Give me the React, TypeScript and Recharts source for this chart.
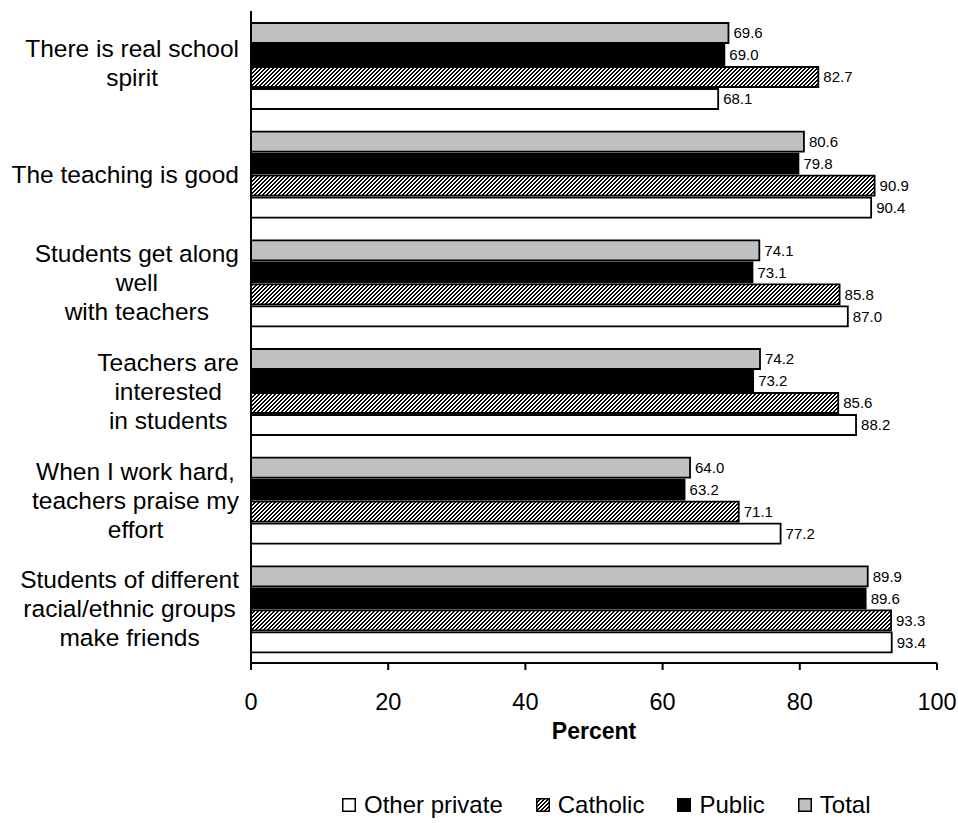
import React from "react";
import { BarChart, Bar, XAxis, YAxis, LabelList } from "recharts";

const categories = [
  "There is real school\nspirit",
  "The teaching is good",
  "Students get along\nwell\nwith teachers",
  "Teachers are\ninterested\nin students",
  "When I work hard,\nteachers praise my\neffort",
  "Students of different\nracial/ethnic groups\nmake friends",
];

const total = [69.6, 80.6, 74.1, 74.2, 64.0, 89.9];
const publicSchools = [69.0, 79.8, 73.1, 73.2, 63.2, 89.6];
const catholic = [82.7, 90.9, 85.8, 85.6, 71.1, 93.3];
const otherPrivate = [68.1, 90.4, 87.0, 88.2, 77.2, 93.4];

const xTicks = [0, 20, 40, 60, 80, 100];

const data = categories.map((category, i) => ({
  category,
  total: total[i],
  public: publicSchools[i],
  catholic: catholic[i],
  other: otherPrivate[i],
}));

const FONT = "'Liberation Sans', Arial, sans-serif";

let measureCtx: CanvasRenderingContext2D | null = null;
const textWidth = (text: string, size: number) => {
  if (!measureCtx) {
    measureCtx = document.createElement("canvas").getContext("2d");
  }
  if (!measureCtx) return text.length * size * 0.5;
  measureCtx.font = `${size}px ${FONT}`;
  return measureCtx.measureText(text).width;
};

const CategoryTick = (props: any) => {
  const { x, y, payload } = props;
  const lines: string[] = String(payload.value).split("\n");
  const size = 24.5;
  const lineHeight = 29;
  const w = Math.max(...lines.map((l) => textWidth(l, size)));
  const cx = x - w / 2;
  const startY = y - ((lines.length - 1) * lineHeight) / 2 - (lines.length === 2 ? 3 : 0);
  return (
    <text x={cx} y={startY} textAnchor="middle" fontSize={size} fill="#000" fontFamily={FONT}>
      {lines.map((line, i) => (
        <tspan key={i} x={cx} y={startY + i * lineHeight} dy="0.36em">
          {line}
        </tspan>
      ))}
    </text>
  );
};

const PercentLabel = (props: any) => {
  const vb = props.viewBox || {};
  return (
    <text
      x={vb.x + vb.width / 2}
      y={vb.y + 76}
      textAnchor="middle"
      fontSize={23}
      fontWeight="bold"
      fill="#000"
      fontFamily={FONT}
    >
      Percent
    </text>
  );
};

// pixel hatch, rising diagonal
const hatchCells: [number, number][] = [];
for (let px = 0; px < 4; px++) {
  for (let py = 0; py < 4; py++) {
    if ((px + py) % 4 < 2) hatchCells.push([px, py]);
  }
}

const HatchDefs = ({ id }: { id: string }) => (
  <defs>
    <pattern id={id} width="4" height="4" patternUnits="userSpaceOnUse">
      <rect width="4" height="4" fill="#fff" />
      {hatchCells.map(([cx, cy]) => (
        <rect key={`${cx}-${cy}`} x={cx} y={cy} width={1} height={1} fill="#000" shapeRendering="crispEdges" />
      ))}
    </pattern>
  </defs>
);

const legendItems = [
  { name: "Other private", fill: "#fff" },
  { name: "Catholic", fill: "url(#hatchLegend)" },
  { name: "Public", fill: "#000" },
  { name: "Total", fill: "#c0c0c0" },
];

const fmt = (v: any) => Number(v).toFixed(1);

const valueLabel = {
  position: "right" as const,
  offset: 5,
  formatter: fmt,
  fontSize: 15,
  fill: "#000",
  fontFamily: FONT,
};

export default function App() {
  return (
    <div
      style={{
        position: "absolute",
        left: 0,
        top: 0,
        width: 958,
        height: 823,
        background: "#fff",
        fontFamily: FONT,
      }}
    >
      <BarChart
        width={958}
        height={823}
        data={data}
        layout="vertical"
        margin={{ top: 11, right: 21, left: 0, bottom: 0 }}
        barCategoryGap={12}
        barGap={2}
      >
        <HatchDefs id="hatchBar" />
        <XAxis
          type="number"
          domain={[0, 100]}
          ticks={xTicks}
          height={160}
          axisLine={{ stroke: "#000", strokeWidth: 2 }}
          tickLine={{ stroke: "#000", strokeWidth: 2 }}
          tickSize={7}
          tickMargin={23}
          tick={{ fill: "#000", fontSize: 23.5, fontFamily: FONT }}
          label={<PercentLabel />}
        />
        <YAxis
          type="category"
          dataKey="category"
          width={251}
          axisLine={{ stroke: "#000", strokeWidth: 2 }}
          tickLine={false}
          tickSize={0}
          tickMargin={12}
          tick={<CategoryTick />}
          interval={0}
        />
        <Bar dataKey="total" fill="#c0c0c0" stroke="#000" strokeWidth={1.8} isAnimationActive={false}>
          <LabelList dataKey="total" {...valueLabel} />
        </Bar>
        <Bar dataKey="public" fill="#000" stroke="#000" strokeWidth={1.8} isAnimationActive={false}>
          <LabelList dataKey="public" {...valueLabel} />
        </Bar>
        <Bar dataKey="catholic" fill="url(#hatchBar)" stroke="#000" strokeWidth={1.8} isAnimationActive={false}>
          <LabelList dataKey="catholic" {...valueLabel} />
        </Bar>
        <Bar dataKey="other" fill="#fff" stroke="#000" strokeWidth={1.8} isAnimationActive={false}>
          <LabelList dataKey="other" {...valueLabel} />
        </Bar>
      </BarChart>
      <div
        style={{
          position: "absolute",
          left: 342,
          top: 792,
          display: "flex",
          alignItems: "center",
          gap: 33,
          fontSize: 24,
          lineHeight: "26px",
          color: "#000",
        }}
      >
        {legendItems.map((item) => (
          <div key={item.name} style={{ display: "flex", alignItems: "center" }}>
            <svg width={14} height={14} style={{ marginRight: 8 }}>
              <HatchDefs id="hatchLegend" />
              <rect x={0.75} y={0.75} width={12.5} height={12.5} fill={item.fill} stroke="#000" strokeWidth={1.5} />
            </svg>
            <span>{item.name}</span>
          </div>
        ))}
      </div>
    </div>
  );
}
